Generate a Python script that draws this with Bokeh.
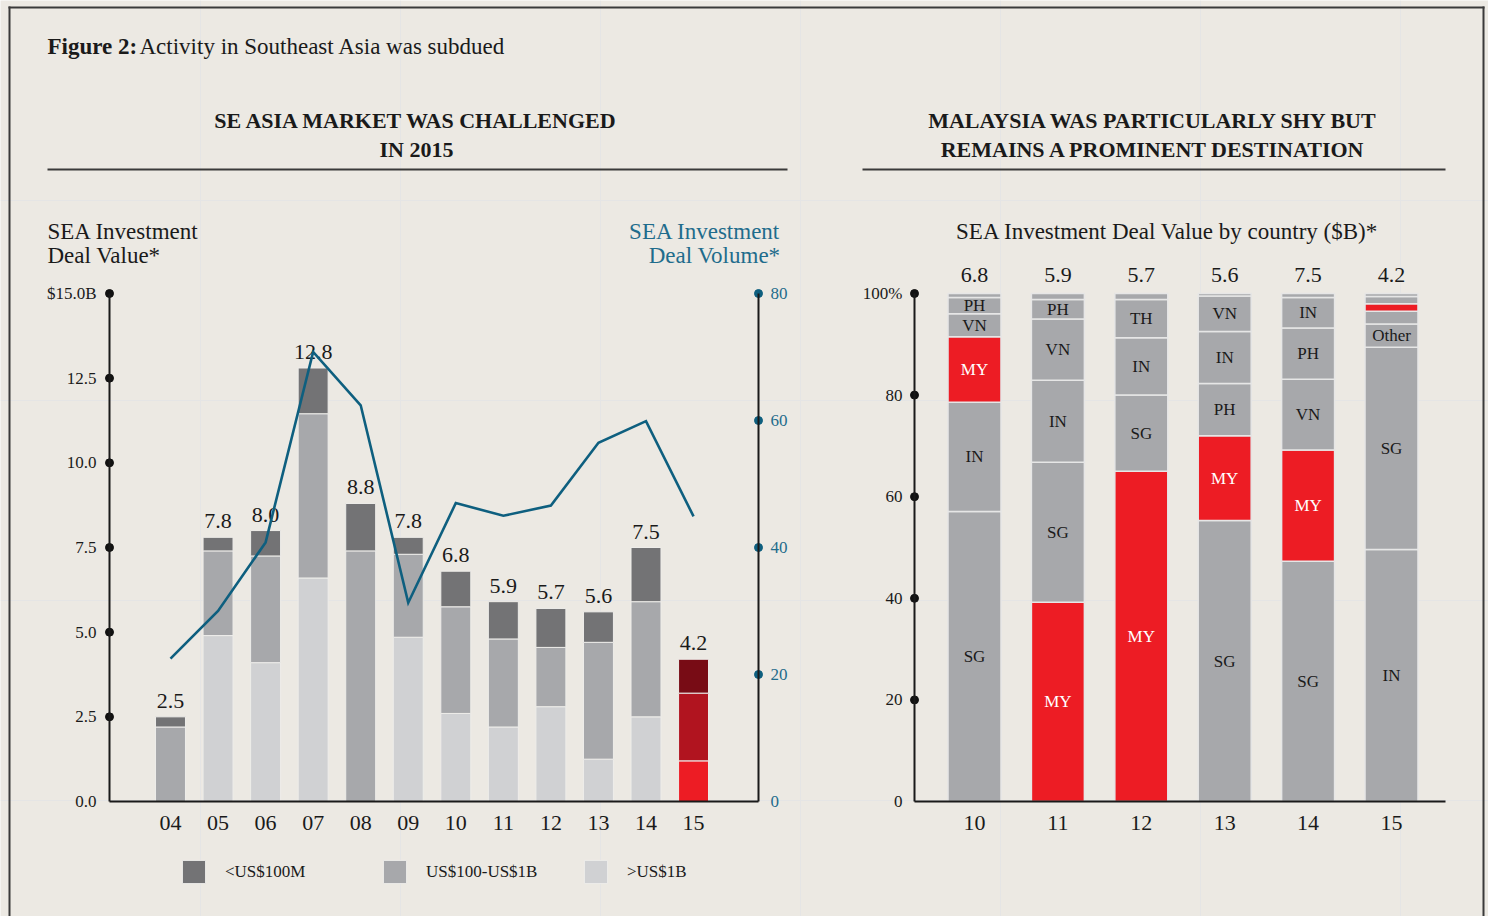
import numpy as np
from bokeh.plotting import figure
from bokeh.models import (ColumnDataSource, Range1d, LinearAxis, FixedTicker,
                          Legend, LegendItem)
from bokeh.core.properties import value
from bokeh.embed import file_html
from bokeh.resources import INLINE

# ---------------- data ----------------
years = ["04", "05", "06", "07", "08", "09", "10", "11", "12", "13", "14", "15"]
value_over_1b = [0.0, 4.9, 4.1, 6.6, 0.0, 4.85, 2.6, 2.2, 2.8, 1.25, 2.5, 1.2]
value_100m_to_1b = [2.2, 2.5, 3.15, 4.85, 7.4, 2.45, 3.15, 2.6, 1.75, 3.45, 3.4, 2.0]
value_under_100m = [0.3, 0.4, 0.75, 1.35, 1.4, 0.5, 1.05, 1.1, 1.15, 0.9, 1.6, 1.0]
deal_volume = [22.5, 30.0, 40.8, 70.8, 62.4, 31.3, 47.0, 45.0, 46.6, 56.5, 59.9, 44.9]
value_ticks = [0, 2.5, 5, 7.5, 10, 12.5, 15]
value_tick_labels = ["0.0", "2.5", "5.0", "7.5", "10.0", "12.5", "$15.0B"]
volume_ticks = [0, 20, 40, 60, 80]
volume_tick_labels = ["0", "20", "40", "60", "80"]
legend_labels = ["<US$100M", "US$100-US$1B", ">US$1B"]
highlight_year = "15"

country_years = ["10", "11", "12", "13", "14", "15"]
country_totals = [6.8, 5.9, 5.7, 5.6, 7.5, 4.2]
codes_10 = ["SG", "IN", "MY", "VN", "PH", "TH"]
share_10 = [57.1, 21.5, 12.9, 4.5, 3.2, 0.8]
codes_11 = ["MY", "SG", "IN", "VN", "PH", "TH"]
share_11 = [39.2, 27.6, 16.1, 12.1, 3.8, 1.2]
codes_12 = ["MY", "SG", "IN", "TH", "PH"]
share_12 = [65.0, 15.0, 11.3, 7.5, 1.2]
codes_13 = ["SG", "MY", "PH", "IN", "VN", "TH"]
share_13 = [55.3, 16.7, 10.3, 10.2, 7.0, 0.5]
codes_14 = ["SG", "MY", "VN", "PH", "IN", "TH"]
share_14 = [47.3, 21.9, 13.9, 10.1, 6.0, 0.8]
codes_15 = ["IN", "SG", "Other", "PH", "MY", "VN", "TH"]
share_15 = [49.6, 39.8, 4.6, 2.5, 1.5, 1.4, 0.6]
share_ticks = [0, 20, 40, 60, 80, 100]
share_tick_labels = ["0", "20", "40", "60", "80", "100%"]
focus_country = "MY"

# ---------------- styles ----------------
BG = "#ECE9E3"
INK = "#1A1A1A"
RULE = "#3A3A3A"
TEAL = "#0E5F7F"
TEAL_TXT = "#1F6C8C"
GRAYS = ["#D0D1D3", "#A7A8AB", "#737375"]      # >1B, 100M-1B, <100M
REDS = ["#ED1C24", "#B1141F", "#780C15"]
SEG_GRAY = "#A7A8AB"
SEG_RED = "#ED1C24"
FONT = "Liberation Serif"

# ---------------- geometry (page pixels) ----------------
CW, CH = 1488, 916
BASE, TOP = 801, 293                 # y pixel of 0 and of axis maximum
L_AX, L_AX_R = 109, 758              # left chart axes
L_C0, L_STEP = 170.0, 47.55          # first bar centre, spacing
R_AX, R_AX_R = 914, 1445             # right chart axes
R_C0, R_STEP = 974.0, 83.4
VALUE_MAX, VOLUME_MAX, SHARE_MAX = 15, 80, 100
PX_VAL = (BASE - TOP) / VALUE_MAX
PX_VOL = (BASE - TOP) / VOLUME_MAX
PX_SHARE = (BASE - TOP) / SHARE_MAX


def lx(px):
    return (px - L_C0) / L_STEP


def rx(px):
    return (px - R_C0) / R_STEP


def yv(py, per):
    return (BASE - py) / per


p = figure(width=CW, height=CH, output_backend="svg", toolbar_location=None, title=None,
           x_range=Range1d(0, CW), y_range=Range1d(CH, 0),
           x_axis_location=None, y_axis_location=None, min_border=0,
           background_fill_color=BG, border_fill_color=BG, outline_line_color=None)
p.extra_x_ranges = {"L": Range1d(lx(0), lx(CW)), "R": Range1d(rx(0), rx(CW))}
p.extra_y_ranges = {"val": Range1d(yv(CH, PX_VAL), yv(0, PX_VAL)),
                    "vol": Range1d(yv(CH, PX_VOL), yv(0, PX_VOL)),
                    "share": Range1d(yv(CH, PX_SHARE), yv(0, PX_SHARE))}


def y_axis(side, xr, yr, loc, ticks, labels, vmax, dot_color, label_color, standoff):
    ax = LinearAxis(x_range_name=xr, y_range_name=yr, fixed_location=loc, bounds=(0, vmax),
                    ticker=FixedTicker(ticks=ticks),
                    major_label_overrides=dict(zip(ticks, labels)))
    ax.axis_line_color = INK
    ax.axis_line_width = 2
    ax.major_tick_line_color = None
    ax.major_tick_in = 0
    ax.major_tick_out = 0
    ax.minor_tick_line_color = None
    ax.major_label_text_font = FONT
    ax.major_label_text_font_size = "17px"
    ax.major_label_text_color = label_color
    ax.major_label_standoff = standoff
    p.add_layout(ax, side)
    dots = [t for t in ticks if t != 0]
    p.scatter(x=[loc] * len(dots), y=dots, size=8, color=dot_color,
              x_range_name=xr, y_range_name=yr)


def x_axis(xr, yr, lo, hi, n, labels):
    ax = LinearAxis(x_range_name=xr, y_range_name=yr, fixed_location=0, bounds=(lo, hi),
                    ticker=FixedTicker(ticks=list(range(n))),
                    major_label_overrides={i: lab for i, lab in enumerate(labels)})
    ax.axis_line_color = INK
    ax.axis_line_width = 2
    ax.major_tick_line_color = None
    ax.major_tick_in = 0
    ax.major_tick_out = 0
    ax.minor_tick_line_color = None
    ax.major_label_text_font = FONT
    ax.major_label_text_font_size = "22px"
    ax.major_label_text_color = INK
    ax.major_label_standoff = 14
    p.add_layout(ax, "below")


# =============== LEFT CHART ===============
xs = np.arange(len(years))
layers = [np.array(value_over_1b), np.array(value_100m_to_1b), np.array(value_under_100m)]
bottom = np.zeros(len(years))
bar_renderers = []
for k, layer in enumerate(layers):
    colors = [REDS[k] if y == highlight_year else GRAYS[k] for y in years]
    src = ColumnDataSource(dict(x=xs, bottom=bottom.copy(), top=bottom + layer, color=colors))
    r = p.vbar(x="x", bottom="bottom", top="top", width=0.63, source=src,
               fill_color="color", line_color="#EEEDEA", line_width=1,
               x_range_name="L", y_range_name="val")
    bar_renderers.append(r)
    bottom = bottom + layer

p.text(x=xs, y=bottom, text=["%.1f" % v for v in bottom], text_align="center",
       text_baseline="middle", y_offset=-16, text_font=value(FONT),
       text_font_size="22px", text_color=INK, x_range_name="L", y_range_name="val")

p.line(xs, deal_volume, line_color=TEAL, line_width=2.6, line_join="miter",
       x_range_name="L", y_range_name="vol")

y_axis("left", "L", "val", lx(L_AX), value_ticks, value_tick_labels, VALUE_MAX,
       "#111111", INK, 13)
y_axis("right", "L", "vol", lx(L_AX_R), volume_ticks, volume_tick_labels, VOLUME_MAX,
       TEAL, TEAL_TXT, 12)
x_axis("L", "val", lx(L_AX), lx(L_AX_R), len(years), years)

legend = Legend(items=[
    LegendItem(label=value(legend_labels[0]), renderers=[bar_renderers[2]], index=0),
    LegendItem(label=value(legend_labels[1]), renderers=[bar_renderers[1]], index=0),
    LegendItem(label=value(legend_labels[2]), renderers=[bar_renderers[0]], index=0)],
    orientation="horizontal", location=(179, CH - 886),
    glyph_width=29, glyph_height=29, label_standoff=17, label_width=155,
    label_height=29, spacing=0, padding=0, margin=0,
    border_line_color=None, background_fill_alpha=0,
    label_text_font=FONT, label_text_font_size="17px", label_text_color=INK)
p.add_layout(legend)

# =============== RIGHT CHART ===============
share_codes = [codes_10, codes_11, codes_12, codes_13, codes_14, codes_15]
share_values = [share_10, share_11, share_12, share_13, share_14, share_15]
seg = dict(x=[], bottom=[], top=[], color=[])
lab = dict(x=[], y=[], text=[], color=[])
tops_all = []
for i, (codes, vals) in enumerate(zip(share_codes, share_values)):
    tops = np.cumsum(vals)
    bots = tops - np.array(vals)
    tops_all.append(tops[-1])
    for c, b, t, v in zip(codes, bots, tops, vals):
        seg["x"].append(i)
        seg["bottom"].append(b)
        seg["top"].append(t)
        seg["color"].append(SEG_RED if c == focus_country else SEG_GRAY)
        if v >= 3.0:
            lab["x"].append(i)
            lab["y"].append((b + t) / 2)
            lab["text"].append(c)
            lab["color"].append("#FFFFFF" if c == focus_country else INK)

cx = np.arange(len(country_years))
p.vbar(x="x", bottom="bottom", top="top", width=0.635, source=ColumnDataSource(seg),
       fill_color="color", line_color="#E6E6E6", line_width=1.5,
       x_range_name="R", y_range_name="share")
p.text(x="x", y="y", text="text", source=ColumnDataSource(lab), text_color="color",
       text_align="center", text_baseline="middle", text_font=value(FONT),
       text_font_size="17px", x_range_name="R", y_range_name="share")
p.text(x=cx, y=tops_all, text=["%.1f" % v for v in country_totals], text_align="center",
       text_baseline="middle", y_offset=-19, text_font=value(FONT),
       text_font_size="22px", text_color=INK, x_range_name="R", y_range_name="share")

y_axis("left", "R", "share", rx(R_AX), share_ticks, share_tick_labels, SHARE_MAX,
       "#111111", INK, 12)
x_axis("R", "share", rx(R_AX), rx(R_AX_R), len(country_years), country_years)

# =============== HEADINGS, CAPTIONS, RULES (page pixel coordinates) ===============
def txt(x, y, s, size, color=INK, align="left", bold=False):
    p.text(x=[x], y=[y], text=[s], text_font=value(FONT), text_font_size=size,
           text_color=color, text_align=align, text_baseline="middle",
           text_font_style="bold" if bold else "normal")


txt(47, 46, "Figure 2:", "23px", bold=True)
txt(139, 46, "Activity in Southeast Asia was subdued", "23px")
txt(416, 120, "SE ASIA MARKET WAS CHALLENGED", "22px", align="center", bold=True)
txt(416, 149, "IN 2015", "22px", align="center", bold=True)
txt(1153, 120, "MALAYSIA WAS PARTICULARLY SHY BUT", "22px", align="center", bold=True)
txt(1153, 149, "REMAINS A PROMINENT DESTINATION", "22px", align="center", bold=True)
txt(47, 231, "SEA Investment", "23px")
txt(47, 255, "Deal Value*", "23px")
txt(780, 231, "SEA Investment", "23px", color=TEAL_TXT, align="right")
txt(780, 255, "Deal Volume*", "23px", color=TEAL_TXT, align="right")
txt(1167, 231, "SEA Investment Deal Value by country ($B)*", "23px", align="center")

p.segment(x0=[47, 862], y0=[169, 169], x1=[787, 1445], y1=[169, 169],
          line_color=RULE, line_width=2)
p.segment(x0=[9, 8, 1483], y0=[6, 7, 6], x1=[9, 1484, 1483], y1=[CH, 7, CH],
          line_color=RULE, line_width=2)

open("out.html", "w").write(file_html(p, INLINE))
